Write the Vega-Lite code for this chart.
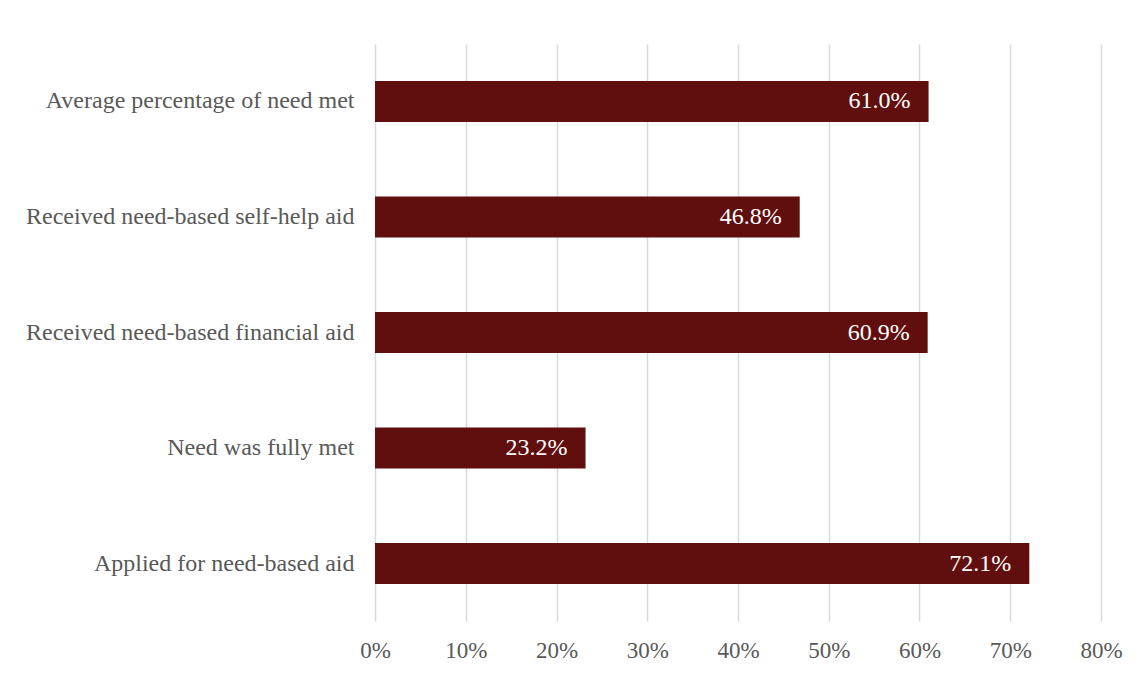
{
  "$schema": "https://vega.github.io/schema/vega-lite/v6.json",
  "autosize": {"type": "none"},
  "width": 726,
  "height": 577,
  "padding": {"left": 375, "top": 44, "right": 44, "bottom": 54},
  "background": "white",
  "config": {
    "view": {"stroke": null},
    "font": "Liberation Serif",
    "axis": {"labelFont": "Liberation Serif", "labelColor": "#595959", "labelFontSize": 24}
  },
  "data": {
    "values": [
      {"category": "Average percentage of need met", "value": 0.610},
      {"category": "Received need-based self-help aid", "value": 0.468},
      {"category": "Received need-based financial aid", "value": 0.609},
      {"category": "Need was fully met", "value": 0.232},
      {"category": "Applied for need-based aid", "value": 0.721}
    ]
  },
  "encoding": {
    "y": {
      "field": "category", "type": "nominal", "sort": null,
      "scale": {"paddingInner": 0.645, "paddingOuter": 0.32},
      "axis": {"title": null, "domain": false, "ticks": false, "labelPadding": 21, "grid": false, "labelLimit": 400, "labelFontSize": 24}
    },
    "x": {
      "field": "value", "type": "quantitative",
      "scale": {"domain": [0, 0.8], "nice": false},
      "axis": {"title": null, "format": ".0%", "values": [0,0.1,0.2,0.3,0.4,0.5,0.6,0.7,0.8], "domain": false, "ticks": false, "labelPadding": 18, "grid": true, "gridColor": "#D9D9D9", "gridWidth": 1.5, "labelFlush": false, "labelFontSize": 23}
    }
  },
  "layer": [
    {"mark": {"type": "bar", "color": "#600F0E"}},
    {
      "mark": {"type": "text", "align": "right", "baseline": "middle", "dx": -18, "color": "white", "fontSize": 24, "font": "Liberation Serif"},
      "encoding": {"text": {"field": "value", "type": "quantitative", "format": ".1%"}}
    }
  ]
}
